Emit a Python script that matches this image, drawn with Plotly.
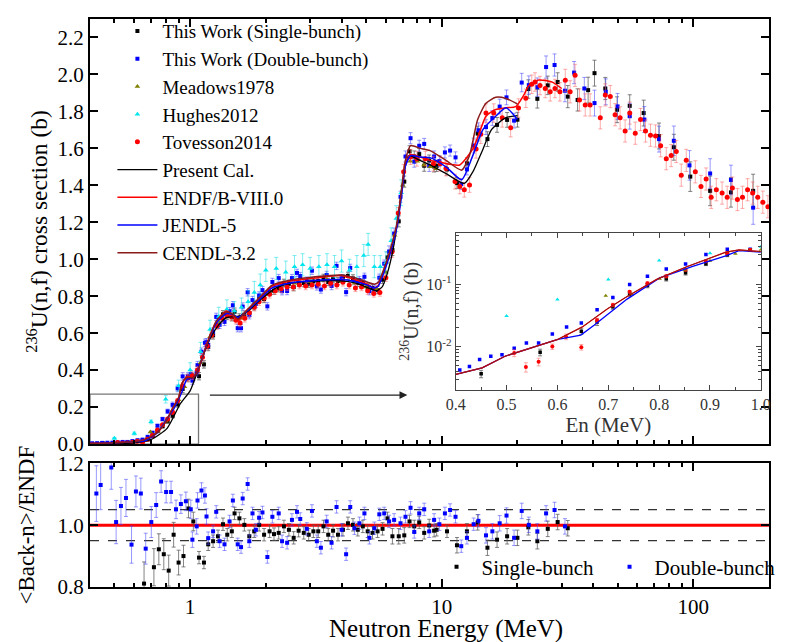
import math
import plotly.graph_objects as go

FONT = "Liberation Serif"

# ---------------- DATA ----------------
# Evaluations / calculation (main panel)
endf_E = [0.40, 0.45, 0.50, 0.55, 0.60, 0.65, 0.70, 0.75, 0.80, 0.85, 0.90, 0.93, 0.97, 1.03, 1.09, 1.16, 1.27, 1.39, 1.48,
          1.55, 1.67, 1.88, 2.12, 2.47, 3.14, 3.98, 4.50, 5.08, 5.40, 5.60, 5.90, 6.27, 6.65, 6.96, 7.16, 7.52, 8.22, 8.99,
          9.83, 10.8, 11.8, 13.3, 14.2, 15.0, 16.4, 18.0, 19.7, 21.2, 22.2, 24.3, 27.4, 30.0]
endf_S = [0.0036, 0.0046, 0.007, 0.010, 0.013, 0.021, 0.040, 0.07, 0.12, 0.19, 0.25, 0.33, 0.36, 0.36, 0.42, 0.536, 0.66,
          0.72, 0.695, 0.668, 0.72, 0.785, 0.854, 0.88, 0.898, 0.912, 0.89, 0.864, 0.845, 0.86, 0.94, 1.05, 1.19, 1.385,
          1.51, 1.567, 1.553, 1.535, 1.526, 1.514, 1.51, 1.597, 1.694, 1.774, 1.81, 1.82, 1.826, 1.888, 1.94, 1.97, 1.96,
          1.924]

jendl_E = [0.40, 0.45, 0.50, 0.55, 0.60, 0.646, 0.672, 0.737, 0.801, 0.866, 0.931, 0.97, 1.03, 1.09, 1.16, 1.27, 1.39,
           1.48, 1.55, 1.67, 1.88, 2.12, 2.47, 3.14, 3.98, 4.50, 5.08, 5.40, 5.60, 5.90, 6.27, 6.65, 6.96, 7.16, 7.52,
           8.22, 8.99, 10.4, 12.0, 13.3, 14.6, 16.4, 18.0, 20.0]
jendl_S = [0.0036, 0.0046, 0.007, 0.010, 0.013, 0.0153, 0.022, 0.058, 0.127, 0.195, 0.287, 0.35, 0.36, 0.42, 0.53,
           0.655, 0.705, 0.70, 0.685, 0.715, 0.78, 0.845, 0.87, 0.885, 0.89, 0.88, 0.86, 0.845, 0.855, 0.93, 1.04, 1.18,
           1.37, 1.50, 1.56, 1.553, 1.55, 1.50, 1.43, 1.562, 1.703, 1.774, 1.82, 1.756]

cendl_E = [0.40, 0.45, 0.50, 0.55, 0.60, 0.65, 0.70, 0.75, 0.80, 0.85, 0.90, 0.93, 0.97, 1.03, 1.09, 1.16, 1.27, 1.39,
           1.48, 1.55, 1.67, 1.88, 2.12, 2.47, 3.14, 3.98, 4.50, 5.08, 5.40, 5.60, 5.90, 6.27, 6.65, 6.96, 7.16, 7.52,
           8.22, 8.99, 10.4, 12.0, 12.9, 13.9, 15.0, 16.4, 18.0, 20.0]
cendl_S = [0.0036, 0.0046, 0.007, 0.010, 0.013, 0.021, 0.040, 0.07, 0.12, 0.19, 0.25, 0.33, 0.36, 0.36, 0.42, 0.53,
           0.665, 0.715, 0.70, 0.675, 0.72, 0.79, 0.86, 0.885, 0.905, 0.915, 0.90, 0.875, 0.865, 0.875, 0.95, 1.06, 1.20,
           1.40, 1.53, 1.615, 1.60, 1.588, 1.535, 1.482, 1.562, 1.756, 1.844, 1.876, 1.87, 1.84]

cal_E = [0.40, 0.50, 0.60, 0.70, 0.81, 0.914, 1.00, 1.06, 1.12, 1.20, 1.30, 1.40, 1.55, 1.70, 1.90, 2.20, 2.50, 3.00,
         3.60, 4.20, 4.70, 5.10, 5.50, 5.80, 6.10, 6.40, 6.70, 7.00, 7.40, 8.20, 9.00, 10.4, 12.3, 13.3, 14.6, 15.8,
         18.0, 20.0]
cal_S = [0.0, 0.002, 0.006, 0.025, 0.085, 0.218, 0.288, 0.377, 0.47, 0.57, 0.645, 0.685, 0.69, 0.72, 0.78, 0.845, 0.87,
         0.88, 0.885, 0.88, 0.865, 0.845, 0.83, 0.85, 0.93, 1.05, 1.22, 1.42, 1.56, 1.535, 1.51, 1.464, 1.41, 1.473,
         1.597, 1.703, 1.766, 1.777]

# This work, single-bunch (main panel)
single_E = [0.45, 0.566, 0.647, 0.678, 0.709, 0.742, 0.777, 0.814, 0.852, 0.892, 0.934, 0.979,
            1.03, 1.085, 1.135, 1.18, 1.234, 1.291, 1.351, 1.405, 1.465, 1.502, 1.57, 1.643, 1.719, 1.798, 1.881,
            1.968, 2.07, 2.155, 2.25, 2.36, 2.47, 2.58, 2.7, 2.83, 2.96, 3.09, 3.23, 3.39, 3.54, 3.7, 3.87, 4.05,
            4.24, 4.44, 4.64, 4.86, 5.08, 5.31, 5.56, 5.82, 6.09, 6.37,
            6.75, 7.1, 7.45, 7.78, 8.14, 8.52, 8.92, 9.33, 9.55, 10.5, 11.5, 12.6, 13.9, 15.2, 16.6, 18.2, 20.0,
            22.1, 24.0, 26.4, 28.9, 31.7, 34.7, 38.2, 40.5, 44.7, 49.8, 55.9, 63.5, 73.1, 83.7, 97.3, 116.7, 141.2,
            173.0]
single_S = [0.00366, 0.0081, 0.0177, 0.0248, 0.0438, 0.0695, 0.096, 0.123, 0.153, 0.215, 0.298, 0.357,
            0.364, 0.367, 0.431, 0.525, 0.588, 0.646, 0.702, 0.693, 0.686, 0.716, 0.685, 0.70, 0.709, 0.745, 0.786,
            0.785, 0.823, 0.83, 0.843, 0.872, 0.867, 0.849, 0.874, 0.871, 0.868, 0.88, 0.882, 0.899, 0.877, 0.892,
            0.882, 0.896, 0.91, 0.896, 0.872, 0.872, 0.847, 0.844, 0.833, 0.889, 1.01, 1.05,
            1.205, 1.42, 1.584, 1.556, 1.569, 1.506, 1.534, 1.502, 1.505, 1.486, 1.412, 1.519, 1.68, 1.65, 1.727,
            1.754, 1.755, 1.921, 1.868, 1.941, 1.959, 1.88, 1.862, 1.915, 2.007, 1.924, 1.809, 1.83, 1.791, 1.667,
            1.606, 1.447, 1.37, 1.362, 1.37]
single_err = [0.0005, 0.001, 0.002, 0.003, 0.004, 0.006, 0.008, 0.01, 0.012, 0.015, 0.02, 0.02,
              0.02, 0.02, 0.02, 0.02, 0.02, 0.02, 0.02, 0.02, 0.02, 0.02, 0.02, 0.02, 0.02, 0.02, 0.02,
              0.02, 0.02, 0.02, 0.02, 0.02, 0.02, 0.02, 0.02, 0.02, 0.02, 0.02, 0.02, 0.02, 0.02, 0.02,
              0.02, 0.02, 0.02, 0.02, 0.02, 0.02, 0.02, 0.02, 0.02, 0.02, 0.03, 0.03,
              0.03, 0.03, 0.03, 0.03, 0.03, 0.03, 0.03, 0.03, 0.03, 0.03, 0.03, 0.03, 0.04, 0.04, 0.04,
              0.04, 0.04, 0.05, 0.05, 0.05, 0.05, 0.06, 0.06, 0.07, 0.07, 0.06, 0.07, 0.06, 0.07, 0.07,
              0.07, 0.08, 0.08, 0.08, 0.09]

# This work, double-bunch (main panel)
double_E = [0.408, 0.427, 0.447, 0.469, 0.491, 0.515, 0.539, 0.563, 0.590, 0.618, 0.647, 0.678, 0.709, 0.742,
            0.777, 0.814, 0.852, 0.892, 0.934, 0.979,
            1.006, 1.021, 1.062, 1.07, 1.11, 1.145, 1.162, 1.18, 1.234, 1.27, 1.31, 1.37, 1.435, 1.479, 1.546,
            1.594, 1.618, 1.693, 1.719, 1.77, 1.826, 1.881, 1.939, 2.028, 2.123, 2.25, 2.32, 2.43, 2.54, 2.66,
            2.74, 2.91, 3.05, 3.19, 3.31, 3.49, 3.65, 3.82, 4.0, 4.17, 4.33, 4.5, 4.71, 4.93, 5.16, 5.4, 5.65,
            5.91, 6.18, 6.47,
            6.86, 7.18, 7.52, 7.78, 8.14, 8.52, 8.92, 9.33, 9.79, 10.3, 10.8, 11.35, 11.96, 12.6, 13.4, 14.0,
            15.0, 15.9, 17.0, 18.1, 19.4, 20.8, 22.2, 24.0, 26.0, 28.1, 30.9, 33.6, 36.9, 40.5, 44.9, 50.0,
            55.9, 63.9, 73.1, 83.7, 96.6, 116.7, 141.2, 173.0]
double_S = [0.0042, 0.0048, 0.0062, 0.0070, 0.0074, 0.0094, 0.0114, 0.0114, 0.016, 0.0207, 0.0239, 0.039, 0.0615,
            0.099, 0.135, 0.177, 0.212, 0.301, 0.366, 0.366,
            0.378, 0.343, 0.388, 0.427, 0.50, 0.548, 0.551, 0.536, 0.608, 0.688, 0.645, 0.661, 0.719, 0.751, 0.627,
            0.627, 0.744, 0.821, 0.697, 0.779, 0.758, 0.804, 0.833, 0.745, 0.877, 0.898, 0.827, 0.828, 0.898,
            0.926, 0.909, 0.884, 0.938, 0.853, 0.836, 0.915, 0.855, 0.964, 0.897, 0.822, 0.953, 0.881, 0.887,
            0.905, 0.827, 0.837, 0.90, 0.976, 1.042, 1.139,
            1.338, 1.556, 1.655, 1.528, 1.614, 1.624, 1.505, 1.556, 1.531, 1.578, 1.588, 1.551, 1.407, 1.486,
            1.615, 1.698, 1.715, 1.764, 1.826, 1.876, 1.75, 1.956, 1.942, 1.931, 2.04, 2.051, 1.912, 2.01, 1.924,
            1.845, 1.906, 1.827, 1.774, 1.756, 1.65, 1.641, 1.508, 1.464, 1.429, 1.279]
double_err = [0.0005, 0.0005, 0.0006, 0.0007, 0.0008, 0.001, 0.001, 0.001, 0.002, 0.002, 0.002, 0.003, 0.005,
              0.007, 0.01, 0.012, 0.015, 0.018, 0.02, 0.02,
              0.02, 0.02, 0.02, 0.02, 0.02, 0.02, 0.02, 0.02, 0.02, 0.02, 0.02, 0.02, 0.02, 0.02, 0.02,
              0.02, 0.02, 0.02, 0.02, 0.02, 0.02, 0.02, 0.02, 0.02, 0.02, 0.02, 0.02, 0.02, 0.02, 0.02,
              0.02, 0.02, 0.02, 0.02, 0.02, 0.02, 0.02, 0.02, 0.02, 0.02, 0.02, 0.02, 0.02, 0.02, 0.02, 0.02, 0.02,
              0.02, 0.03, 0.03,
              0.03, 0.03, 0.03, 0.03, 0.03, 0.03, 0.03, 0.03, 0.03, 0.03, 0.03, 0.03, 0.03, 0.03, 0.04, 0.04,
              0.04, 0.04, 0.04, 0.04, 0.04, 0.05, 0.05, 0.05, 0.06, 0.06, 0.06, 0.06, 0.06, 0.07, 0.07, 0.07,
              0.07, 0.07, 0.07, 0.08, 0.08, 0.08, 0.08, 0.09]

# Meadows1978
mead_E = [0.695, 0.746, 0.801, 0.85, 0.90, 0.95, 1.0, 1.1, 1.2, 1.3, 1.4, 1.5, 1.6, 1.8, 2.0, 2.3, 2.6, 3.0, 3.5, 4.0,
          4.5, 5.0, 5.5, 6.0, 6.5, 7.0, 7.5, 8.0, 8.5, 9.0, 9.5]
mead_S = [0.0655, 0.0695, 0.123, 0.172, 0.24, 0.31, 0.36, 0.44, 0.58, 0.66, 0.70, 0.69, 0.68, 0.76, 0.81, 0.86, 0.87,
          0.88, 0.89, 0.88, 0.87, 0.85, 0.84, 0.93, 1.13, 1.40, 1.53, 1.53, 1.51, 1.50, 1.49]

# Hughes2012
hug_E = [0.5, 0.6, 0.7, 0.8, 0.9, 1.0, 1.1, 1.2, 1.3, 1.4, 1.5, 1.6, 1.7, 1.8, 1.9, 2.0, 2.2, 2.4, 2.6, 2.8, 3.0, 3.25,
         3.5, 3.75, 4.0, 4.3, 4.6, 4.9, 5.1, 5.4, 5.7, 6.0, 6.3, 6.6, 6.9]
hug_S = [0.031, 0.057, 0.12, 0.242, 0.316, 0.40, 0.50, 0.62, 0.69, 0.73, 0.72, 0.74, 0.77, 0.82, 0.86, 0.94, 0.95,
         0.93, 0.96, 0.97, 0.95, 0.96, 0.97, 0.96, 0.99, 0.94, 0.96, 1.02, 1.08, 0.96, 0.96, 0.98, 1.10, 1.22, 1.36]
hug_err = [0.005, 0.008, 0.01, 0.02, 0.03, 0.04, 0.05, 0.05, 0.05, 0.05, 0.05, 0.05, 0.06, 0.06, 0.06, 0.06, 0.06,
           0.06, 0.06, 0.06, 0.06, 0.06, 0.06, 0.06, 0.06, 0.06, 0.06, 0.06, 0.06, 0.06, 0.06, 0.06, 0.07, 0.07, 0.07]

# Tovesson2014
tov_E = [0.515, 0.538, 0.563, 0.590, 0.617, 0.647, 0.678, 0.709, 0.742, 0.777, 0.814, 0.852, 0.892, 0.934, 0.979,
         1.02, 1.07, 1.12, 1.17, 1.22, 1.28, 1.34, 1.40, 1.46, 1.52, 1.58, 1.65, 1.72, 1.80, 1.88, 1.97, 2.07, 2.18,
         2.30, 2.43, 2.57, 2.72, 2.88, 3.05, 3.23, 3.42, 3.62, 3.83, 4.05, 4.29, 4.54, 4.80, 5.08, 5.37, 5.68, 6.0,
         6.35, 6.72,
         7.06, 7.52, 7.97, 8.61, 9.27, 9.86, 10.4, 11.3, 11.8, 12.3, 12.9, 13.7, 14.3, 15.0, 16.1, 17.4, 18.8,
         20.2, 21.6, 22.8, 23.5, 24.6, 25.8, 27.0, 28.2, 29.5, 31.0, 32.4, 33.9, 35.3, 37.2, 38.9, 42.7, 44.7,
         46.8, 48.9, 51.2, 53.6, 55.9, 58.8, 61.7, 64.6, 67.6, 70.8, 74.2, 78.1, 81.7, 85.6, 89.6, 93.8, 101.9,
         107.3, 112.5, 117.8, 123.5, 130.2, 136.4, 143.0, 149.8, 156.9, 164.4, 172.2, 180.4, 189.0, 198.0]
tov_S = [0.0079, 0.0047, 0.0057, 0.010, 0.0144, 0.0098, 0.0264, 0.0467, 0.0758, 0.104, 0.135, 0.172, 0.234, 0.316,
         0.357,
         0.37, 0.40, 0.47, 0.53, 0.59, 0.64, 0.68, 0.70, 0.69, 0.67, 0.655, 0.68, 0.71, 0.74, 0.77, 0.79, 0.81, 0.83,
         0.84, 0.85, 0.85, 0.86, 0.855, 0.86, 0.865, 0.855, 0.87, 0.86, 0.875, 0.86, 0.845, 0.85, 0.83, 0.815, 0.82,
         0.90, 1.04, 1.25,
         1.473, 1.553, 1.544, 1.544, 1.517, 1.517, 1.491, 1.42, 1.394, 1.376, 1.402, 1.597, 1.676, 1.791, 1.791,
         1.765, 1.712, 1.818, 1.871, 1.947, 1.959, 1.94, 1.924, 1.906, 1.924, 1.906, 1.968, 1.906, 1.995, 1.862,
         1.835, 1.835, 1.765, 1.889, 1.88, 1.782, 1.765, 1.694, 1.791, 1.682, 1.756, 1.694, 1.671, 1.667, 1.614,
         1.544, 1.561, 1.583, 1.455, 1.535, 1.473, 1.394, 1.434, 1.335, 1.376, 1.358, 1.335, 1.385, 1.323, 1.335,
         1.376, 1.358, 1.335, 1.309, 1.284]
tov_err = [0.001, 0.0008, 0.0008, 0.001, 0.0015, 0.001, 0.002, 0.003, 0.004, 0.006, 0.008, 0.01, 0.012, 0.015, 0.02,
           0.02, 0.02, 0.02, 0.02, 0.02, 0.02, 0.02, 0.02, 0.02, 0.02, 0.02, 0.02, 0.02, 0.02, 0.02, 0.02, 0.02, 0.02,
           0.02, 0.02, 0.02, 0.02, 0.02, 0.02, 0.02, 0.02, 0.02, 0.02, 0.02, 0.02, 0.02, 0.02, 0.02, 0.02, 0.02, 0.02,
           0.03, 0.03,
           0.04, 0.04, 0.04, 0.04, 0.04, 0.04, 0.04, 0.04, 0.04, 0.04, 0.04, 0.05, 0.05, 0.05, 0.05, 0.05, 0.05,
           0.05, 0.05, 0.05, 0.05, 0.05, 0.05, 0.05, 0.05, 0.05, 0.06, 0.06, 0.06, 0.06, 0.06, 0.06, 0.06, 0.06,
           0.06, 0.06, 0.06, 0.06, 0.06, 0.06, 0.06, 0.06, 0.06, 0.06, 0.06, 0.06, 0.06, 0.06, 0.06, 0.06, 0.06,
           0.06, 0.06, 0.06, 0.06, 0.06, 0.06, 0.06, 0.06, 0.06, 0.06, 0.06, 0.06, 0.06, 0.06]

# Ratio panel: <Back-n>/ENDF
rs_E = [0.656, 0.718, 0.751, 0.786, 0.822, 0.86, 0.90, 0.941, 0.985, 1.03, 1.085, 1.135, 1.18, 1.234, 1.291, 1.351,
        1.405, 1.465, 1.502, 1.57, 1.643, 1.719, 1.798, 1.881, 1.968, 2.07, 2.155, 2.25, 2.36, 2.47, 2.58, 2.7, 2.83,
        2.96, 3.09, 3.23, 3.39, 3.54, 3.7, 3.87, 4.05, 4.24, 4.44, 4.64, 4.86, 5.08, 5.31, 5.56, 5.82, 6.09, 6.37,
        6.75, 7.1, 7.45, 7.78, 8.14, 8.52, 8.92, 9.33, 9.55, 10.5, 11.5, 12.6, 13.9, 15.2, 16.6, 18.2, 20.0, 22.1,
        24.0, 26.4, 28.9, 31.7]
rs_R = [0.811, 0.864, 0.922, 0.906, 0.853, 0.969, 0.879, 0.90, 1.054, 1.012, 0.895, 0.879, 0.938, 0.948, 0.964, 1.003,
        0.969, 0.98, 1.038, 1.022, 1.001, 0.964, 0.98, 1.001, 0.969, 0.98, 0.971, 0.975, 0.996, 0.985, 0.959, 0.982,
        0.975, 0.969, 0.98, 0.98, 0.996, 0.969, 0.982, 0.969, 0.985, 1.006, 1.001, 0.985, 0.996, 0.98, 0.975, 0.98,
        0.988, 1.022, 0.964, 0.964, 0.967, 1.012, 0.996, 1.009, 0.975, 0.999, 0.982, 0.985, 0.98, 0.935, 0.98, 1.009,
        0.927, 0.953, 0.964, 0.959, 0.993, 0.948, 0.988, 1.01, 0.99]
rs_err = [0.07, 0.06, 0.05, 0.05, 0.05, 0.04, 0.04, 0.035, 0.03, 0.03, 0.02, 0.02, 0.02, 0.02, 0.02, 0.02, 0.02, 0.02,
          0.02, 0.02, 0.02, 0.02, 0.02, 0.02, 0.02, 0.02, 0.02, 0.02, 0.02, 0.02, 0.02, 0.02, 0.02, 0.02, 0.02, 0.02,
          0.02, 0.02, 0.02, 0.02, 0.02, 0.02, 0.02, 0.02, 0.02, 0.02, 0.02, 0.02, 0.02, 0.02, 0.025, 0.025, 0.025,
          0.02, 0.02, 0.02, 0.02, 0.02, 0.02, 0.02, 0.02, 0.025, 0.025, 0.025, 0.025, 0.025, 0.025, 0.025, 0.025,
          0.025, 0.025, 0.025, 0.025]

rd_E = [0.424, 0.441, 0.486, 0.508, 0.531, 0.556, 0.585, 0.609, 0.637, 0.666, 0.701, 0.733, 0.767, 0.803, 0.84, 0.879,
        0.919, 0.962, 1.006, 1.021, 1.062, 1.07, 1.11, 1.145, 1.162, 1.18, 1.234, 1.27, 1.31, 1.37, 1.435, 1.479,
        1.546, 1.594, 1.618, 1.693, 1.719, 1.77, 1.826, 1.881, 1.939, 2.028, 2.123, 2.25, 2.32, 2.43, 2.54, 2.66,
        2.74, 2.91, 3.05, 3.19, 3.31, 3.49, 3.65, 3.82, 4.0, 4.17, 4.33, 4.5, 4.71, 4.93, 5.16, 5.4, 5.65, 5.91, 6.18,
        6.47, 6.86, 7.18, 7.52, 7.78, 8.14, 8.52, 8.92, 9.33, 9.79, 10.3, 10.8, 11.35, 11.96, 12.6, 13.4, 14.0, 15.0,
        15.9, 17.0, 18.1, 19.4, 20.8, 22.2, 24.0, 26.0, 28.1, 30.9]
rd_R = [1.102, 1.13, 1.186, 1.01, 1.062, 1.088, 0.937, 1.109, 1.102, 0.924, 1.01, 1.065, 1.141, 1.107, 1.107, 1.051,
        1.068, 1.077, 1.051, 0.953, 0.996, 1.08, 1.112, 1.096, 1.028, 0.958, 0.98, 1.043, 0.948, 0.938, 1.012, 1.08,
        0.938, 0.929, 1.086, 1.133, 0.948, 1.038, 0.985, 1.024, 1.041, 0.897, 1.027, 1.038, 0.948, 0.943, 1.017,
        1.043, 1.02, 0.988, 1.046, 0.948, 0.927, 1.012, 0.943, 1.059, 0.985, 0.906, 1.059, 0.99, 1.006, 1.038, 0.959,
        0.99, 1.035, 1.038, 1.012, 1.017, 1.006, 1.027, 1.056, 0.978, 1.038, 1.051, 0.98, 1.017, 1.003, 1.038, 1.049,
        1.027, 0.932, 0.959, 1.003, 1.014, 0.967, 0.98, 1.006, 1.031, 0.959, 1.046, 1.001, 0.98, 1.038, 1.049, 0.996]
rd_err = [0.09, 0.08, 0.07, 0.07, 0.06, 0.06, 0.06, 0.05, 0.05, 0.05, 0.05, 0.04, 0.035, 0.035, 0.035, 0.03, 0.03,
          0.03, 0.03, 0.025, 0.025, 0.025, 0.025, 0.025, 0.025, 0.02, 0.02, 0.02, 0.02, 0.02, 0.02, 0.02, 0.02, 0.02,
          0.02, 0.02, 0.02, 0.02, 0.02, 0.02, 0.02, 0.02, 0.02, 0.02, 0.02, 0.02, 0.02, 0.02, 0.02, 0.02, 0.02, 0.02,
          0.02, 0.02, 0.02, 0.02, 0.02, 0.02, 0.02, 0.02, 0.02, 0.02, 0.02, 0.02, 0.02, 0.02, 0.02, 0.02, 0.02, 0.02,
          0.02, 0.02, 0.02, 0.02, 0.02, 0.02, 0.02, 0.02, 0.02, 0.02, 0.02, 0.02, 0.02, 0.02, 0.025, 0.025, 0.025,
          0.025, 0.025, 0.025, 0.025, 0.025, 0.025, 0.025, 0.025]

# Inset curves (0.4-1.0 MeV, log y)
in_endf_E = [0.40, 0.452, 0.497, 0.555, 0.601, 0.649, 0.698, 0.737, 0.795, 0.853, 0.892, 0.931, 0.957, 1.0]
in_endf_S = [0.00357, 0.00455, 0.0070, 0.010, 0.0131, 0.0207, 0.0403, 0.0638, 0.12, 0.19, 0.248, 0.328, 0.357, 0.336]
in_jendl_E = [0.40, 0.452, 0.497, 0.555, 0.601, 0.646, 0.672, 0.737, 0.801, 0.866, 0.931, 0.957, 1.0]
in_jendl_S = [0.00357, 0.00455, 0.0070, 0.010, 0.0131, 0.0153, 0.022, 0.058, 0.127, 0.195, 0.287, 0.348, 0.33]

# Annotation helpers (zoom box and arrow, data coords)
box_E = [0.4, 1.08]
box_S = [0.0, 0.27]
arrow_E = [1.166, 7.3]
arrow_S = 0.265

# ---------------- FIGURE ----------------
BLACK_ERR = "rgba(90,90,90,0.75)"
BLUE_ERR = "rgba(70,70,255,0.55)"
RED_ERR = "rgba(255,90,90,0.5)"
CYAN_ERR = "rgba(0,220,230,0.5)"

fig = go.Figure()


def err(arr, color):
    return dict(type="data", array=arr, color=color, thickness=1, width=2)


# main-panel data
fig.add_trace(go.Scatter(x=single_E, y=single_S, mode="markers", name="This Work (Single-bunch)",
                         marker=dict(symbol="square", size=4, color="black"), error_y=err(single_err, BLACK_ERR),
                         xaxis="x", yaxis="y", legendrank=1))
fig.add_trace(go.Scatter(x=double_E, y=double_S, mode="markers", name="This Work (Double-bunch)",
                         marker=dict(symbol="square", size=4, color="#0000ff"), error_y=err(double_err, BLUE_ERR),
                         xaxis="x", yaxis="y", legendrank=2))
fig.add_trace(go.Scatter(x=mead_E, y=mead_S, mode="markers", name="Meadows1978",
                         marker=dict(symbol="triangle-up", size=5, color="#808000"),
                         xaxis="x", yaxis="y", legendrank=3))
fig.add_trace(go.Scatter(x=hug_E, y=hug_S, mode="markers", name="Hughes2012",
                         marker=dict(symbol="triangle-up", size=5, color="#00e5ee"), error_y=err(hug_err, CYAN_ERR),
                         xaxis="x", yaxis="y", legendrank=4))
fig.add_trace(go.Scatter(x=tov_E, y=tov_S, mode="markers", name="Tovesson2014",
                         marker=dict(symbol="circle", size=5, color="#ff0000"), error_y=err(tov_err, RED_ERR),
                         xaxis="x", yaxis="y", legendrank=5))
# curves
fig.add_trace(go.Scatter(x=cal_E, y=cal_S, mode="lines", name="Present Cal.", line=dict(color="black", width=1.3,
                         shape="spline", smoothing=0.6), xaxis="x", yaxis="y", legendrank=6))
fig.add_trace(go.Scatter(x=endf_E, y=endf_S, mode="lines", name="ENDF/B-VIII.0", line=dict(color="#ff0000", width=1.5,
                         shape="spline", smoothing=0.6), xaxis="x", yaxis="y", legendrank=7))
fig.add_trace(go.Scatter(x=jendl_E, y=jendl_S, mode="lines", name="JENDL-5", line=dict(color="#0000ff", width=1.5,
                         shape="spline", smoothing=0.6), xaxis="x", yaxis="y", legendrank=8))
fig.add_trace(go.Scatter(x=cendl_E, y=cendl_S, mode="lines", name="CENDL-3.2", line=dict(color="#8b1a1a", width=1.5,
                         shape="spline", smoothing=0.6), xaxis="x", yaxis="y", legendrank=9))

# inset traces
fig.add_trace(go.Scatter(x=double_E, y=double_S, mode="markers", marker=dict(symbol="square", size=3.5, color="#0000ff"),
                         xaxis="x3", yaxis="y3", showlegend=False))
fig.add_trace(go.Scatter(x=single_E, y=single_S, mode="markers", marker=dict(symbol="square", size=3.5, color="black"),
                         error_y=err(single_err, BLACK_ERR), xaxis="x3", yaxis="y3", showlegend=False))
fig.add_trace(go.Scatter(x=tov_E, y=tov_S, mode="markers", marker=dict(symbol="circle", size=4, color="#ff0000"),
                         error_y=err(tov_err, RED_ERR), xaxis="x3", yaxis="y3", showlegend=False))
fig.add_trace(go.Scatter(x=hug_E, y=hug_S, mode="markers", marker=dict(symbol="triangle-up", size=4, color="#00e5ee"),
                         xaxis="x3", yaxis="y3", showlegend=False))
fig.add_trace(go.Scatter(x=mead_E, y=mead_S, mode="markers", marker=dict(symbol="triangle-up", size=4, color="#808000"),
                         xaxis="x3", yaxis="y3", showlegend=False))
fig.add_trace(go.Scatter(x=in_jendl_E, y=in_jendl_S, mode="lines", line=dict(color="#0000ff", width=1.3),
                         xaxis="x3", yaxis="y3", showlegend=False))
fig.add_trace(go.Scatter(x=in_endf_E, y=in_endf_S, mode="lines", line=dict(color="#ff0000", width=1.3),
                         xaxis="x3", yaxis="y3", showlegend=False))
fig.add_trace(go.Scatter(x=in_endf_E, y=in_endf_S, mode="lines", line=dict(color="#8b1a1a", width=1.0),
                         xaxis="x3", yaxis="y3", showlegend=False))

# ratio panel
fig.add_trace(go.Scatter(x=rs_E, y=rs_R, mode="markers", name="Single-bunch",
                         marker=dict(symbol="square", size=4, color="black"), error_y=err(rs_err, BLACK_ERR),
                         xaxis="x2", yaxis="y2", legend="legend2"))
fig.add_trace(go.Scatter(x=rd_E, y=rd_R, mode="markers", name="Double-bunch",
                         marker=dict(symbol="square", size=4, color="#0000ff"), error_y=err(rd_err, BLUE_ERR),
                         xaxis="x2", yaxis="y2", legend="legend2"))

# reference lines in ratio panel
shapes = [
    dict(type="line", xref="x2 domain", yref="y2", x0=0, x1=1, y0=1.05, y1=1.05,
         line=dict(color="#333333", width=1.2, dash="dash"), layer="below"),
    dict(type="line", xref="x2 domain", yref="y2", x0=0, x1=1, y0=0.95, y1=0.95,
         line=dict(color="#333333", width=1.2, dash="dash"), layer="below"),
    dict(type="line", xref="x2 domain", yref="y2", x0=0, x1=1, y0=1.0, y1=1.0,
         line=dict(color="#ff0000", width=3), layer="below"),
    dict(type="rect", xref="x", yref="y", x0=box_E[0], x1=box_E[1], y0=box_S[0], y1=box_S[1],
         line=dict(color="#777777", width=1.3), layer="below"),
]

annotations = [
    dict(x=math.log10(arrow_E[1]), y=arrow_S, ax=math.log10(arrow_E[0]), ay=arrow_S, xref="x", yref="y",
         axref="x", ayref="y", showarrow=True, arrowhead=2, arrowsize=1.3, arrowwidth=1.2, arrowcolor="#222222",
         text=" "),
    dict(x=0.524, y=-0.0745, xref="paper", yref="paper", xanchor="center", yanchor="middle", showarrow=False,
         text="Neutron Energy (MeV)", font=dict(family=FONT, size=25, color="black")),
]

tick_font = dict(family=FONT, size=21, color="black")

minor_log = [0.5, 0.6, 0.7, 0.8, 0.9, 2, 3, 4, 5, 6, 7, 8, 9, 20, 30, 40, 50, 60, 70, 80, 90, 200]
inset_minor_y = [0.002, 0.003, 0.004, 0.005, 0.006, 0.007, 0.008, 0.009, 0.02, 0.03, 0.04, 0.05, 0.06, 0.07, 0.08,
                 0.09, 0.2, 0.3, 0.4, 0.5, 0.6]

common_axis = dict(showline=True, linecolor="black", linewidth=2, mirror="allticks", ticks="inside",
                   tickcolor="black", showgrid=False, zeroline=False, tickfont=tick_font)

fig.update_layout(
    width=786, height=642,
    margin=dict(l=90, r=9, t=7, b=55),
    paper_bgcolor="white", plot_bgcolor="white",
    font=dict(family=FONT, color="black"),
    xaxis=dict(type="log", range=[math.log10(0.4), math.log10(200)], domain=[0, 1], anchor="y",
               tickvals=[1, 10, 100], showticklabels=False, ticklen=8, tickwidth=1.5,
               minor=dict(tickvals=minor_log, ticks="inside", ticklen=4, tickcolor="black", showgrid=False),
               **common_axis),
    yaxis=dict(range=[0, 2.3], domain=[0.2517, 1.0], anchor="x", tickvals=[0, 0.2, 0.4, 0.6, 0.8, 1.0, 1.2, 1.4,
               1.6, 1.8, 2.0, 2.2], tickformat=".1f", ticklen=8, tickwidth=1.5,
               title=dict(text="<sup>236</sup>U(n,f) cross section (b)", font=dict(family=FONT, size=23.5),
                          standoff=3),
               **common_axis),
    xaxis2=dict(type="log", range=[math.log10(0.4), math.log10(200)], domain=[0, 1], anchor="y2",
                tickvals=[1, 10, 100], ticktext=["1", "10", "100"], ticklen=8, tickwidth=1.5,
                minor=dict(tickvals=minor_log, ticks="inside", ticklen=4, tickcolor="black", showgrid=False),
                **common_axis),
    yaxis2=dict(range=[0.8, 1.2], domain=[0, 0.2178], anchor="x2", tickvals=[0.8, 1.0, 1.2], tickformat=".1f",
                ticklen=8, tickwidth=1.5,
                title=dict(text="&lt;Back-n&gt;/ENDF", font=dict(family=FONT, size=23), standoff=16),
                **common_axis),
    xaxis3=dict(range=[0.4, 1.0], domain=[0.5386, 0.988], anchor="y3", dtick=0.1, tickformat=".1f",
                showline=True, linecolor="#444444", linewidth=1, mirror="allticks", ticks="inside",
                ticklen=5, tickcolor="#444444", showgrid=False, zeroline=False,
                minor=dict(dtick=0.05, ticks="inside", ticklen=3, tickcolor="#444444"),
                tickfont=dict(family=FONT, size=16, color="#333333"),
                title=dict(text="En (MeV)", font=dict(family=FONT, size=21, color="#333333"), standoff=3)),
    yaxis3=dict(type="log", range=[math.log10(0.002), math.log10(0.68)], domain=[0.3466, 0.6241], anchor="x3",
                tickvals=[0.01, 0.1], ticktext=["10<sup>-2</sup>", "10<sup>-1</sup>"],
                showline=True, linecolor="#444444", linewidth=1, mirror="allticks", ticks="inside",
                ticklen=5, tickcolor="#444444", showgrid=False, zeroline=False,
                minor=dict(tickvals=inset_minor_y, ticks="inside", ticklen=3, tickcolor="#444444"),
                tickfont=dict(family=FONT, size=16, color="#333333"),
                title=dict(text="<sup>236</sup>U(n,f) (b)", font=dict(family=FONT, size=20, color="#333333"),
                           standoff=2)),
    legend=dict(x=0.033, y=1.012, xanchor="left", yanchor="top", bgcolor="rgba(0,0,0,0)",
                font=dict(family=FONT, size=19, color="black"), tracegroupgap=0, itemwidth=40,
                traceorder="normal"),
    legend2=dict(x=0.503, y=0.035, xanchor="left", yanchor="middle", orientation="h", bgcolor="rgba(0,0,0,0)",
                 font=dict(family=FONT, size=21, color="black"), itemwidth=40, entrywidth=118,
                 entrywidthmode="pixels"),
    shapes=shapes,
    annotations=annotations,
)

fig.write_html("out.html")
